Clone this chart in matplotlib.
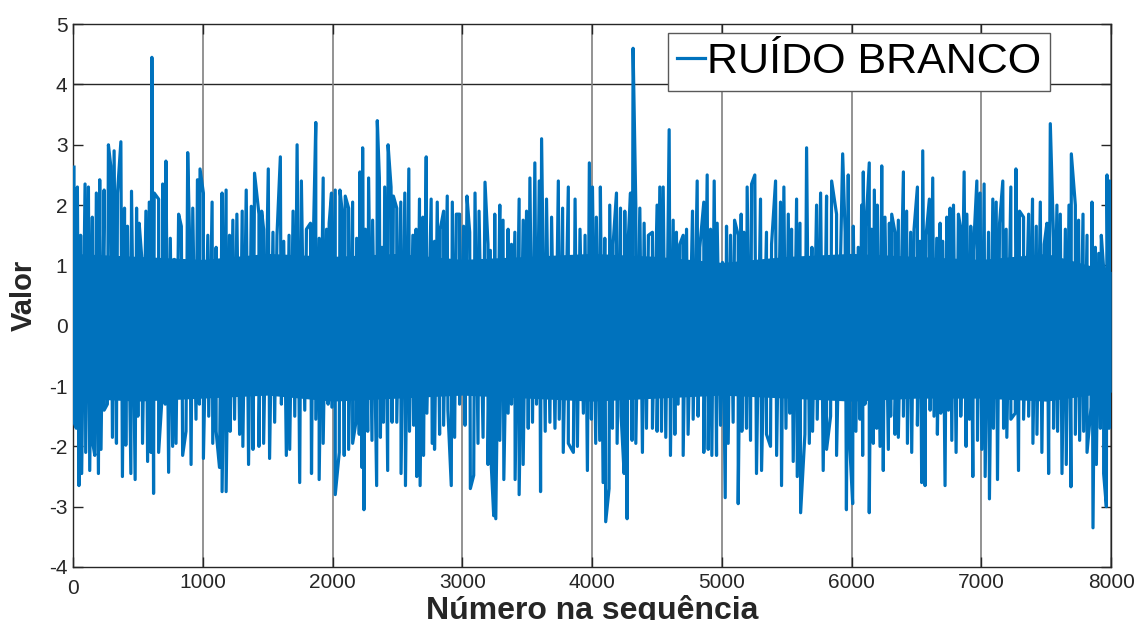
import numpy as np
import matplotlib
matplotlib.use('Agg')
import matplotlib.pyplot as plt
import matplotlib.transforms as mtransforms

plt.rcParams['axes.unicode_minus'] = False

# Pics supérieurs (indice, valeur)
top_n = [8, 34, 59, 93, 119, 149, 180, 206, 240, 273, 291, 317, 343, 369, 397, 420, 451, 490, 510, 531,
         562, 588, 608, 626, 660, 691, 716, 750, 781, 814, 835, 884, 897, 923, 959, 979, 1005, 1039, 1072, 1103,
         1149, 1180, 1206, 1232, 1263, 1304, 1335, 1374, 1399, 1433, 1454, 1469, 1505, 1541, 1572, 1598, 1624, 1665, 1696, 1727,
         1760, 1799, 1830, 1851, 1871, 1897, 1928, 1954, 1974,
         1992, 2021, 2057, 2077, 2098, 2124, 2155, 2186, 2211, 2232, 2253, 2278, 2309, 2345, 2361, 2381, 2402, 2428, 2451, 2469,
         2495, 2526, 2557, 2588, 2619, 2644, 2670, 2696, 2722, 2760, 2786, 2807, 2830, 2856, 2884, 2923, 2954, 2979, 3010, 3036,
         3057, 3098, 3129, 3175, 3198, 3216, 3250, 3289, 3314, 3353, 3379, 3405, 3438, 3469, 3495, 3521, 3559, 3593, 3611, 3649,
         3688, 3740, 3773, 3817, 3869, 3907, 3946, 3979,
         4003, 4033, 4064, 4098, 4136, 4162, 4188, 4219, 4252, 4278, 4296, 4316, 4337, 4368, 4401, 4434, 4465, 4501, 4522, 4548,
         4594, 4625, 4650, 4676, 4702, 4728, 4774, 4810, 4830, 4861, 4887, 4913, 4941, 4964, 5005, 5036, 5067, 5098, 5126, 5149,
         5170, 5195, 5229, 5254, 5298, 5344, 5383, 5414, 5452, 5478, 5512, 5537, 5576, 5602, 5653, 5694, 5730, 5761, 5807, 5846,
         5884, 5931, 5950, 5974,
         6013, 6051, 6077, 6090, 6111, 6136, 6154, 6175, 6198, 6232, 6257, 6291, 6309, 6334, 6360, 6399, 6424, 6455, 6481, 6507,
         6527, 6548, 6574, 6599, 6625, 6656, 6682, 6702, 6733, 6759, 6785, 6823, 6841, 6867, 6888, 6918, 6939, 6965, 6990, 7021,
         7055, 7088, 7114, 7140, 7165, 7191, 7227, 7266, 7294, 7325, 7364, 7394, 7423, 7454, 7484, 7505, 7531, 7556, 7582, 7608,
         7647, 7675, 7693, 7724, 7749, 7783, 7814, 7852, 7878, 7904, 7924, 7942, 7968, 7989, 7999]
top_v = [2.63, 2.3, 1.5, 2.35, 2.3, 1.8, 2.2, 2.42, 2.25, 3.0, 2.65, 2.9, 2.2, 3.05, 1.95, 1.65, 2.23, 1.95, 1.7, 1.1,
         1.9, 2.05, 4.45, 2.2, 2.1, 2.35, 2.73, 1.45, 1.1, 1.85, 1.65, 2.87, 1.6, 1.95, 2.42, 2.6, 2.2, 1.5, 2.05, 1.3,
         2.2, 2.25, 1.5, 1.75, 1.85, 1.9, 2.25, 1.98, 2.53, 1.85, 1.9, 1.6, 2.6, 1.55, 1.5, 2.8, 1.4, 1.5, 1.9, 3.0,
         2.4, 1.6, 1.7, 1.3, 3.37, 1.45, 2.45, 1.6, 1.7,
         2.2, 2.25, 2.25, 1.85, 2.15, 1.95, 2.05, 1.45, 2.55, 2.95, 1.6, 2.45, 1.75, 3.4, 2.45, 1.3, 2.3, 3.0, 2.3, 2.15,
         1.95, 2.05, 2.2, 2.6, 1.5, 1.6, 2.1, 1.8, 2.8, 2.1, 1.4, 2.05, 1.6, 1.9, 2.15, 2.05, 1.85, 1.85, 1.65, 2.15,
         1.55, 2.2, 1.9, 2.38, 1.35, 1.25, 1.85, 2.0, 1.75, 1.6, 1.35, 1.55, 2.1, 1.75, 1.9, 2.45, 2.7, 2.4, 3.1, 2.1,
         1.8, 2.4, 1.95, 2.3, 2.1, 1.6, 1.5, 2.7,
         2.3, 1.8, 2.3, 1.45, 2.0, 1.35, 2.2, 1.95, 1.9, 1.4, 2.2, 4.6, 2.0, 1.95, 1.7, 1.5, 1.55, 2.0, 2.3, 2.3,
         3.25, 1.75, 1.55, 1.35, 1.5, 1.6, 1.9, 2.4, 1.3, 2.05, 2.5, 1.6, 2.4, 1.7, 1.05, 1.65, 1.5, 1.75, 1.5, 1.85,
         1.55, 2.3, 2.35, 2.5, 2.1, 1.55, 1.35, 2.4, 2.05, 2.3, 1.85, 1.6, 2.1, 1.7, 2.95, 1.3, 2.0, 2.2, 2.15, 2.4,
         1.85, 2.85, 1.55, 2.5,
         1.65, 1.3, 2.0, 2.55, 1.65, 2.7, 1.6, 2.25, 2.0, 2.65, 1.8, 1.7, 1.85, 1.55, 1.75, 2.55, 1.9, 1.55, 1.6, 2.3,
         1.4, 2.9, 1.5, 2.1, 2.45, 1.45, 1.7, 1.4, 1.8, 1.95, 2.0, 1.85, 1.6, 2.55, 1.85, 1.65, 1.25, 2.4, 2.2, 2.35,
         1.55, 2.1, 2.05, 1.7, 2.4, 1.6, 2.3, 2.6, 1.9, 1.8, 1.85, 2.1, 1.65, 2.05, 1.35, 1.7, 3.35, 1.45, 2.0, 1.85,
         1.6, 2.0, 2.85, 2.0, 1.75, 1.85, 1.5, 2.05, 1.3, 1.2, 1.5, 0.95, 2.5, 2.4, 0.85]

# Creux inférieurs (indice, valeur)
bot_n = [8, 26, 46, 67, 98, 129, 149, 168, 196, 216, 240, 265, 304, 335, 381, 407, 446, 479, 500, 536,
         575, 601, 621, 660, 686, 711, 737, 768, 794, 845, 871, 910, 948, 974, 1005, 1046, 1077, 1103, 1129, 1149,
         1180, 1211, 1245, 1284, 1309, 1353, 1387, 1433, 1469, 1515, 1554, 1606, 1644, 1670, 1709, 1747, 1786, 1838, 1871, 1897,
         1928, 1966,
         1995, 2021, 2052, 2090, 2124, 2155, 2180, 2206, 2227, 2242, 2271, 2304, 2340, 2369, 2392, 2425, 2459, 2495, 2528, 2562,
         2593, 2626, 2649, 2675, 2701, 2727, 2768, 2786, 2825, 2856, 2889, 2915, 2941, 2979, 3021, 3062, 3088, 3121, 3160, 3198,
         3224, 3242, 3258, 3289, 3320, 3353, 3379, 3407, 3438, 3469, 3508, 3541, 3572, 3603, 3639, 3675, 3714, 3747, 3778, 3817,
         3856, 3887, 3933, 3964,
         3995, 4028, 4059, 4085, 4105, 4131, 4157, 4193, 4224, 4247, 4270, 4308, 4337, 4388, 4419, 4465, 4501, 4535, 4568, 4604,
         4638, 4663, 4702, 4740, 4779, 4817, 4861, 4895, 4923, 4959, 4990, 5026, 5049, 5087, 5126, 5154, 5190, 5221, 5267, 5306,
         5344, 5375, 5422, 5460, 5494, 5524, 5550, 5581, 5607, 5640, 5674, 5699, 5735, 5781, 5807, 5838, 5884, 5960, 5985,
         6008, 6033, 6064, 6085, 6103, 6136, 6167, 6193, 6219, 6244, 6283, 6301, 6334, 6360, 6399, 6430, 6463, 6507, 6540, 6566,
         6605, 6635, 6661, 6687, 6720, 6746, 6772, 6805, 6841, 6882, 6908, 6934, 6970, 7003, 7029, 7062, 7093, 7124, 7171, 7196,
         7227, 7261, 7286, 7325, 7364, 7397, 7428, 7466, 7518, 7556, 7587, 7621, 7654, 7690, 7724, 7757, 7788, 7814, 7845, 7860,
         7886, 7917, 7942, 7963, 7984, 7999]
bot_v = [-1.6, -1.7, -2.65, -2.45, -2.1, -2.4, -1.9, -2.15, -2.45, -2.05, -1.4, -1.3, -1.85, -1.95, -2.5, -1.98, -2.45, -2.55, -1.5, -1.95,
         -2.25, -2.1, -2.78, -2.1, -1.2, -1.3, -2.43, -2.0, -1.95, -2.15, -1.75, -2.3, -1.55, -1.3, -2.2, -1.5, -1.95, -1.75, -2.35, -2.75,
         -2.75, -1.75, -1.55, -1.8, -2.0, -2.3, -2.05, -2.0, -1.95, -2.2, -1.6, -1.3, -2.15, -2.05, -1.5, -2.6, -1.4, -2.45, -1.55, -2.55,
         -1.95, -1.3,
         -1.35, -2.8, -2.1, -2.15, -2.05, -1.95, -1.6, -1.8, -2.35, -3.05, -1.75, -1.9, -2.65, -1.85, -1.6, -2.4, -1.6, -1.6, -2.45, -2.65,
         -1.75, -1.65, -2.5, -2.65, -2.15, -1.45, -1.95, -2.05, -1.8, -1.65, -1.4, -2.65, -1.85, -1.3, -1.65, -2.7, -2.48, -1.95, -1.85, -2.3,
         -2.35, -3.15, -3.2, -1.9, -2.55, -1.45, -1.3, -2.55, -2.8, -2.3, -1.7, -1.6, -1.3, -2.75, -1.75, -1.6, -1.7, -1.55, -2.1, -1.95,
         -2.1, -2.0, -1.45, -2.4,
         -1.55, -1.95, -1.9, -2.6, -3.25, -2.7, -1.7, -1.95, -1.5, -2.45, -3.2, -1.9, -1.95, -2.1, -1.7, -1.7, -1.75, -1.75, -1.85, -2.15,
         -1.8, -1.3, -2.15, -1.8, -1.55, -1.5, -2.1, -2.05, -2.15, -2.15, -1.65, -2.85, -1.95, -1.6, -2.95, -1.75, -1.7, -1.9, -2.45, -2.4,
         -1.8, -2.0, -2.15, -2.65, -1.7, -1.45, -2.25, -2.5, -3.1, -1.8, -1.95, -1.75, -1.55, -2.4, -2.05, -1.5, -2.15, -3.05, -1.95,
         -2.95, -1.75, -1.55, -2.15, -1.3, -3.1, -1.95, -1.7, -2.0, -2.4, -2.05, -1.5, -1.8, -1.85, -1.5, -1.95, -2.1, -1.65, -2.6, -2.65,
         -1.4, -1.5, -1.8, -1.45, -2.65, -1.4, -1.9, -2.1, -1.5, -2.0, -1.55, -2.5, -1.9, -2.05, -2.5, -2.87, -1.7, -2.55, -1.7, -1.85,
         -1.55, -1.45, -2.4, -1.55, -1.5, -1.95, -1.8, -2.1, -2.45, -1.7, -1.75, -2.45, -2.3, -2.67, -1.8, -1.9, -1.75, -2.1, -1.35, -3.35,
         -2.3, -1.7, -2.45, -3.0, -1.7, -1.1]

# Zone pleine (coeur dense du bruit)
core_n = [0, 500, 1000, 1500, 2000, 2500, 3000, 3500, 4000, 4500, 5000, 5500, 6000, 6500, 7000, 7500, 8000]
core_hi = [1.2, 1.15, 1.1, 1.2, 1.15, 1.2, 1.1, 1.15, 1.2, 1.15, 1.05, 1.15, 1.2, 1.15, 1.1, 1.2, 0.9]
core_lo = [-1.2, -1.25, -1.2, -1.15, -1.25, -1.2, -1.15, -1.2, -1.25, -1.2, -1.15, -1.2, -1.25, -1.2, -1.2, -1.25, -1.1]

x_ticks = [0, 1000, 2000, 3000, 4000, 5000, 6000, 7000, 8000]
y_ticks = [-4, -3, -2, -1, 0, 1, 2, 3, 4, 5]

# Série reconstruite: pics et creux triés par indice
n_all = np.array(top_n + bot_n)
v_all = np.array(top_v + bot_v)
order = np.argsort(n_all, kind='stable')
n_all = n_all[order]
v_all = v_all[order]

sans = ['Liberation Sans', 'DejaVu Sans']
blue = '#0072BD'

fig = plt.figure(figsize=(11.35, 6.2), dpi=100)
ax = fig.add_axes([0.0643, 0.0855, 0.9147, 0.8755])

ax.fill_between(core_n, core_lo, core_hi, color=blue, linewidth=0, zorder=3)
ax.plot(n_all, v_all, color=blue, linewidth=2.3, label='RUÍDO BRANCO', zorder=3)

ax.set_xlim(0, 8000)
ax.set_ylim(-4, 5)
ax.set_xticks(x_ticks)
ax.set_yticks(y_ticks)

# grille verticale grise, ligne horizontale à 4
ax.grid(True, axis='x', color='#808080', linewidth=1.2, zorder=0)
ax.axhline(4, color='#262626', linewidth=1.0, zorder=0)
ax.set_axisbelow(True)

ax.tick_params(direction='in', top=True, right=True, length=7, width=1, colors='#262626',
               labelsize=15, pad=4)
for lab in ax.get_xticklabels() + ax.get_yticklabels():
    lab.set_family(sans)
    lab.set_color('#262626')
# le "0" de l'axe x est décalé vers le bas
lab0 = ax.get_xticklabels()[0]
lab0.set_transform(lab0.get_transform() + mtransforms.ScaledTranslation(0, -5 / 72, fig.dpi_scale_trans))

for sp in ax.spines.values():
    sp.set_color('#262626')
    sp.set_linewidth(1.0)

ax.set_xlabel('Número na sequência', fontsize=23, fontweight='bold', family=sans, color='#262626')
ax.xaxis.set_label_coords(0.5, -0.051)
ax.set_ylabel('Valor', fontsize=21, fontweight='bold', family=sans, color='#262626')
ax.yaxis.set_label_coords(-0.034, 0.5)

leg = ax.legend(loc='upper right', bbox_to_anchor=(0.941, 0.983), borderaxespad=0,
                fancybox=False, framealpha=1, edgecolor='#595959',
                prop={'family': sans, 'size': 31},
                handlelength=0.65, handletextpad=0.05, borderpad=0.2)
leg.get_frame().set_linewidth(1.0)
leg.get_lines()[0].set_linewidth(2.3)

fig.savefig('out.png', dpi=100)
